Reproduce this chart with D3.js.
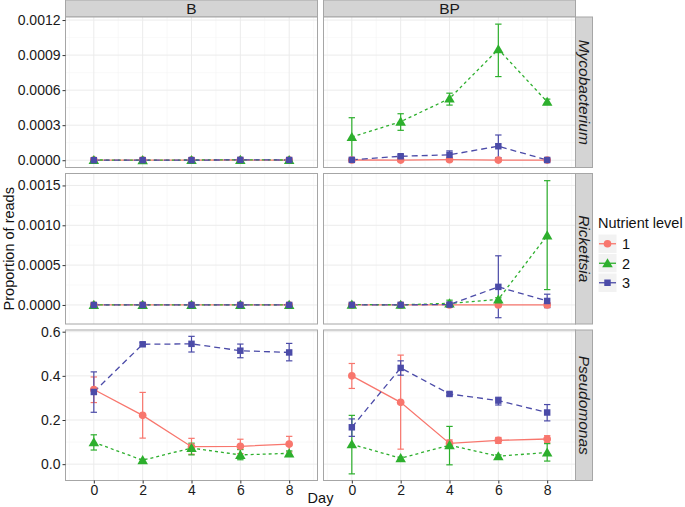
<!DOCTYPE html>
<html><head><meta charset="utf-8">
<script src="https://cdn.jsdelivr.net/npm/d3@7"></script>
<style>body{margin:0;background:#fff}svg{display:block}text{font-family:"Liberation Sans",Arial,sans-serif}</style>
</head><body>
<svg id="c" width="685" height="507"></svg>
<script>
const days = [0, 2, 4, 6, 8];
const treatments = ["B", "BP"];
const taxa = ["Mycobacterium", "Rickettsia", "Pseudomonas"];
const levels = ["1", "2", "3"];
const xTicks = [0, 2, 4, 6, 8];
const mycoTicks = [0, 0.0003, 0.0006, 0.0009, 0.0012];
const mycoTickLabels = ["0.0000", "0.0003", "0.0006", "0.0009", "0.0012"];
const rickTicks = [0, 0.0005, 0.0010, 0.0015];
const rickTickLabels = ["0.0000", "0.0005", "0.0010", "0.0015"];
const pseuTicks = [0, 0.2, 0.4, 0.6];
const pseuTickLabels = ["0.0", "0.2", "0.4", "0.6"];

// Mycobacterium, B  (rows = nutrient level 1,2,3)
const myco_B_mean = [[0.000001,0.000001,0.000001,0.000002,0.000001],[0.000002,0.000001,0.000002,0.000003,0.000002],[0.0000005,0.000001,0.000001,0.000003,0.000002]];
const myco_B_lo = myco_B_mean;
const myco_B_hi = myco_B_mean;
// Mycobacterium, BP
const myco_BP_mean = [[0.000002,0.000001,0.000005,0.000001,0.000001],[0.000199,0.00033,0.000528,0.00095,0.0005],[0.000003,0.000034,0.000046,0.00012,0.000002]];
const myco_BP_lo = [[0.000001,0.0,0.000002,0.0,0.0],[0.0,0.000256,0.000472,0.000716,0.000477],[0.0,0.000022,0.000017,0.000023,0.0]];
const myco_BP_hi = [[0.000003,0.000003,0.000008,0.000002,0.000002],[0.000364,0.000398,0.000574,0.001165,0.000523],[0.000006,0.000046,0.00008,0.000216,0.000004]];
// Rickettsia, B
const rick_B_mean = [[0,0,0,0,0],[0.000001,0.000001,0.000001,0.000001,0.000001],[0,0,0,0,0]];
const rick_B_lo = rick_B_mean;
const rick_B_hi = rick_B_mean;
// Rickettsia, BP
const rick_BP_mean = [[0,0,0,0,0.000001],[0.000004,0.000002,0.00002,0.00007,0.000873],[0.000001,0.000001,0.000005,0.000227,0.00005]];
const rick_BP_lo = [[0,0,0,0,-0.00003],[0,0,0,0.00004,0.000193],[0,0,0,-0.00016,-0.000034]];
const rick_BP_hi = [[0,0,0,0,0.00003],[0.00001,0.000005,0.00006,0.00009,0.00156],[0.000002,0.000002,0.00001,0.000617,0.000135]];
// Pseudomonas, B
const pseu_B_mean = [[0.338,0.221,0.079,0.081,0.091],[0.099,0.018,0.073,0.042,0.049],[0.327,0.543,0.545,0.514,0.506]];
const pseu_B_lo = [[0.279,0.118,0.045,0.048,0.055],[0.064,0.012,0.042,0.02,0.04],[0.235,0.536,0.508,0.482,0.468]];
const pseu_B_hi = [[0.395,0.325,0.117,0.113,0.126],[0.133,0.022,0.095,0.066,0.06],[0.418,0.55,0.579,0.544,0.547]];
// Pseudomonas, BP
const pseu_BP_mean = [[0.4,0.28,0.094,0.108,0.114],[0.09,0.027,0.086,0.036,0.053],[0.167,0.436,0.318,0.288,0.234]];
const pseu_BP_lo = [[0.343,0.068,0.077,0.094,0.098],[-0.044,0.022,-0.003,0.03,0.014],[0.126,0.403,0.31,0.268,0.196]];
const pseu_BP_hi = [[0.456,0.494,0.11,0.121,0.129],[0.221,0.032,0.171,0.042,0.093],[0.205,0.468,0.325,0.303,0.27]];

const colors = ["#F8766D", "#2DAF2D", "#4B4BA8"];
const dashes = [null, "3,3", "6,4"];
const shapes = [d3.symbolCircle, d3.symbolTriangle, d3.symbolSquare];
const shapeSizes = [46, 48, 42];

const panelData = {
  Mycobacterium: {B: [myco_B_mean, myco_B_lo, myco_B_hi], BP: [myco_BP_mean, myco_BP_lo, myco_BP_hi], ticks: mycoTicks, labels: mycoTickLabels, dom: [-0.0000622, 0.001226]},
  Rickettsia: {B: [rick_B_mean, rick_B_lo, rick_B_hi], BP: [rick_BP_mean, rick_BP_lo, rick_BP_hi], ticks: rickTicks, labels: rickTickLabels, dom: [-0.000239, 0.00165]},
  Pseudomonas: {B: [pseu_B_mean, pseu_B_lo, pseu_B_hi], BP: [pseu_BP_mean, pseu_BP_lo, pseu_BP_hi], ticks: pseuTicks, labels: pseuTickLabels, dom: [-0.074, 0.6077]}
};

const svg = d3.select("#c");
const colX = [65.5, 323.5], colW = 252;
const rowY = [17, 173.5, 330], rowH = 150.5;
const stripTopY = 0, stripH = 17, stripRW = 17;
const fs = 14, sfs = 15.5;

// column strips
treatments.forEach((t, ci) => {
  svg.append("rect").attr("x", colX[ci]).attr("y", stripTopY).attr("width", colW).attr("height", stripH)
    .attr("fill", "#D4D4D4").attr("stroke", "#A6A6A6").attr("stroke-width", 1);
  svg.append("text").attr("x", colX[ci] + colW / 2).attr("y", stripTopY + 14).attr("text-anchor", "middle")
    .attr("font-size", sfs).attr("fill", "#1a1a1a").text(t);
});

taxa.forEach((tx, ri) => {
  const pd = panelData[tx];
  const y0 = rowY[ri];
  const y = d3.scaleLinear().domain(pd.dom).range([y0 + rowH, y0]);
  const minor = [];
  for (let i = 0; i < pd.ticks.length - 1; i++) minor.push((pd.ticks[i] + pd.ticks[i + 1]) / 2);
  if (pd.ticks[pd.ticks.length - 1] + (pd.ticks[1] - pd.ticks[0]) / 2 < pd.dom[1]) minor.push(pd.ticks[pd.ticks.length - 1] + (pd.ticks[1] - pd.ticks[0]) / 2);

  treatments.forEach((t, ci) => {
    const x = d3.scaleLinear().domain([-1.16, 9.16]).range([colX[ci], colX[ci] + colW]);
    const g = svg.append("g");
    g.append("rect").attr("x", colX[ci]).attr("y", y0).attr("width", colW).attr("height", rowH).attr("fill", "#fff");
    const xMinor = [1, 3, 5, 7, -1, 9].filter(v => v > -1.16 && v < 9.16);
    g.selectAll(null).data(minor).enter().append("line")
      .attr("x1", colX[ci]).attr("x2", colX[ci] + colW).attr("y1", d => y(d)).attr("y2", d => y(d))
      .attr("stroke", "#F5F5F5").attr("stroke-width", 0.6);
    g.selectAll(null).data(xMinor).enter().append("line")
      .attr("y1", y0).attr("y2", y0 + rowH).attr("x1", d => x(d)).attr("x2", d => x(d))
      .attr("stroke", "#F5F5F5").attr("stroke-width", 0.6);
    g.selectAll(null).data(pd.ticks).enter().append("line")
      .attr("x1", colX[ci]).attr("x2", colX[ci] + colW).attr("y1", d => y(d)).attr("y2", d => y(d))
      .attr("stroke", "#EBEBEB").attr("stroke-width", 1);
    g.selectAll(null).data(xTicks).enter().append("line")
      .attr("y1", y0).attr("y2", y0 + rowH).attr("x1", d => x(d)).attr("x2", d => x(d))
      .attr("stroke", "#EBEBEB").attr("stroke-width", 1);

    const [mean, lo, hi] = pd[t];
    levels.forEach((lv, li) => {
      days.forEach((d, di) => {
        if (hi[li][di] - lo[li][di] < 1e-12) return;
        const c = colors[li];
        g.append("line").attr("x1", x(d)).attr("x2", x(d)).attr("y1", y(lo[li][di])).attr("y2", y(hi[li][di]))
          .attr("stroke", c).attr("stroke-width", 1.2);
        [lo[li][di], hi[li][di]].forEach(v => {
          g.append("line").attr("x1", x(d) - 3.2).attr("x2", x(d) + 3.2).attr("y1", y(v)).attr("y2", y(v))
            .attr("stroke", c).attr("stroke-width", 1.2);
        });
      });
    });
    levels.forEach((lv, li) => {
      const line = d3.line().x((d, i) => x(days[i])).y(d => y(d));
      g.append("path").datum(mean[li]).attr("d", line).attr("fill", "none")
        .attr("stroke", colors[li]).attr("stroke-width", 1.3)
        .attr("stroke-dasharray", dashes[li]);
    });
    levels.forEach((lv, li) => {
      g.selectAll(null).data(mean[li]).enter().append("path")
        .attr("transform", (d, i) => `translate(${x(days[i])},${y(d) + (li === 1 ? 1 : 0)})`)
        .attr("d", d3.symbol().type(shapes[li]).size(shapeSizes[li]))
        .attr("fill", colors[li]);
    });
    g.append("rect").attr("x", colX[ci]).attr("y", y0).attr("width", colW).attr("height", rowH)
      .attr("fill", "none").attr("stroke", "#A6A6A6").attr("stroke-width", 1);

    if (ci === 0) {
      const ax = svg.append("g").attr("transform", `translate(${colX[0]},0)`)
        .call(d3.axisLeft(y).tickValues(pd.ticks).tickSize(3).tickPadding(2).tickFormat((d, i) => pd.labels[i]));
      ax.select(".domain").remove();
      ax.selectAll("line").attr("stroke", "#333");
      ax.selectAll("text").attr("font-size", fs).attr("fill", "#1a1a1a").attr("font-family", "Liberation Sans, Arial, sans-serif");
    }
    if (ri === taxa.length - 1) {
      const ax = svg.append("g").attr("transform", `translate(0,${y0 + rowH})`)
        .call(d3.axisBottom(x).tickValues(xTicks).tickSize(3).tickPadding(2).tickFormat(d3.format("d")));
      ax.select(".domain").remove();
      ax.selectAll("line").attr("stroke", "#333");
      ax.selectAll("text").attr("font-size", fs).attr("fill", "#1a1a1a").attr("font-family", "Liberation Sans, Arial, sans-serif");
    }
  });
  const sx = colX[1] + colW;
  svg.append("rect").attr("x", sx).attr("y", y0).attr("width", stripRW).attr("height", rowH)
    .attr("fill", "#D4D4D4").attr("stroke", "#A6A6A6").attr("stroke-width", 1);
  svg.append("text").attr("transform", `translate(${sx + 3.5},${y0 + rowH / 2}) rotate(90)`)
    .attr("text-anchor", "middle").attr("font-size", sfs).attr("font-style", "italic").attr("fill", "#1a1a1a").text(tx);
});

svg.append("text").attr("transform", `translate(14,${(rowY[0] + rowY[2] + rowH) / 2}) rotate(-90)`)
  .attr("text-anchor", "middle").attr("font-size", 14.5).attr("fill", "#111").text("Proportion of reads");
svg.append("text").attr("x", (colX[0] + colX[1] + colW) / 2).attr("y", 503)
  .attr("text-anchor", "middle").attr("font-size", 14.5).attr("fill", "#111").text("Day");

const lg = svg.append("g").attr("transform", "translate(598,0)");
lg.append("text").attr("x", 0).attr("y", 228).attr("font-size", 14.5).attr("fill", "#111").text("Nutrient level");
levels.forEach((lv, li) => {
  const ky = 234 + li * 19.5;
  lg.append("rect").attr("x", 0).attr("y", ky).attr("width", 19).attr("height", 19.5)
    .attr("fill", "#F2F2F2").attr("stroke", "#fff").attr("stroke-width", 1);
  lg.append("line").attr("x1", 1).attr("x2", 18).attr("y1", ky + 9.75).attr("y2", ky + 9.75)
    .attr("stroke", colors[li]).attr("stroke-width", 1.3);
  lg.append("path").attr("transform", `translate(9.5,${ky + 9.75 + (li === 1 ? 1 : 0)})`)
    .attr("d", d3.symbol().type(shapes[li]).size(shapeSizes[li])).attr("fill", colors[li]);
  lg.append("text").attr("x", 24).attr("y", ky + 15).attr("font-size", 14.5).attr("fill", "#111").text(lv);
});
</script>
</body></html>
